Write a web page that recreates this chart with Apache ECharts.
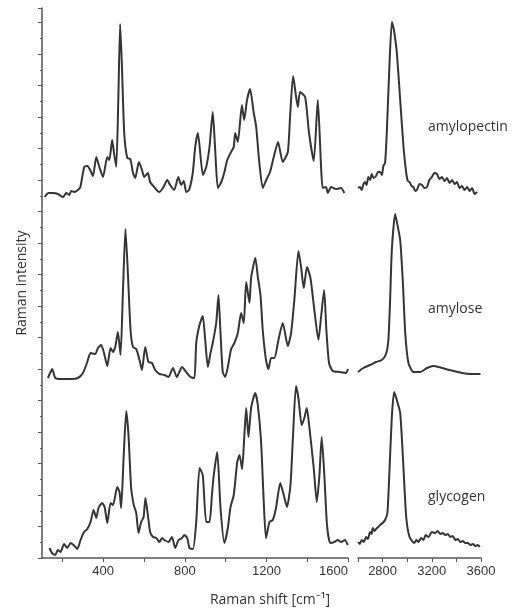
<!DOCTYPE html>
<html>
<head>
<meta charset="utf-8">
<script src="https://cdn.jsdelivr.net/npm/echarts@6/dist/echarts.min.js"></script>
<style>
  html, body { margin: 0; padding: 0; background: #ffffff; }
  #chart { width: 513px; height: 610px; }
</style>
</head>
<body>
<div id="chart"></div>
<script>
// Raman shift (cm-1) and intensity (a.u., spectra stacked)
var amylopectinLowShift = [113, 132, 154, 178, 203, 219, 234, 243, 258, 276, 288, 307, 322, 336, 350, 366, 381, 399, 420, 430, 444, 453, 464, 474, 483, 492, 503, 518, 533, 546, 557, 575, 590, 601, 619, 630, 650, 674, 693, 714, 728, 748, 768, 782, 795, 807, 821, 839, 851, 864, 889, 905, 921, 937, 949, 962, 979, 993, 1008, 1027, 1040, 1047, 1060, 1080, 1091, 1105, 1120, 1138, 1150, 1164, 1182, 1199, 1218, 1236, 1257, 1280, 1305, 1316, 1331, 1354, 1365, 1390, 1409, 1432, 1452, 1468, 1476, 1492, 1501, 1517, 1541, 1566, 1582]
var amylopectinLowInt = [361, 365, 365, 364, 361, 365, 363, 367, 366, 368, 371, 391, 392, 388, 382, 401, 391, 381, 401, 398, 418, 405, 391, 458, 534, 491, 425, 400, 399, 385, 380, 396, 388, 381, 385, 376, 371, 366, 370, 378, 373, 368, 381, 373, 377, 366, 368, 385, 411, 425, 383, 391, 411, 446, 408, 370, 376, 385, 398, 406, 411, 425, 416, 453, 438, 458, 469, 445, 431, 398, 370, 378, 386, 401, 416, 396, 406, 441, 482, 451, 466, 461, 425, 397, 458, 391, 370, 371, 365, 371, 369, 370, 365]
var amylopectinHighShift = [2600, 2616, 2630, 2645, 2657, 2670, 2684, 2698, 2712, 2725, 2747, 2762, 2780, 2795, 2806, 2820, 2834, 2855, 2875, 2885, 2896, 2916, 2943, 2970, 2992, 3005, 3019, 3035, 3051, 3065, 3079, 3100, 3120, 3140, 3161, 3180, 3201, 3220, 3242, 3262, 3283, 3303, 3324, 3345, 3365, 3385, 3405, 3425, 3446, 3466, 3487, 3508, 3528, 3548, 3569]
var amylopectinHighInt = [370, 371, 368, 374, 376, 373, 381, 378, 384, 380, 382, 386, 386, 383, 392, 395, 425, 491, 536, 532, 525, 505, 458, 411, 385, 377, 376, 372, 371, 367, 368, 374, 373, 370, 371, 378, 381, 385, 384, 379, 381, 377, 380, 375, 378, 374, 376, 370, 372, 368, 371, 367, 370, 364, 366]

var amyloseLowShift = [129, 142, 150, 165, 194, 243, 276, 301, 322, 338, 361, 374, 390, 404, 420, 436, 448, 459, 472, 485, 497, 509, 521, 534, 546, 562, 578, 590, 606, 622, 639, 655, 676, 700, 720, 742, 761, 786, 807, 828, 847, 856, 872, 888, 900, 913, 926, 937, 954, 965, 975, 986, 998, 1011, 1027, 1043, 1060, 1076, 1089, 1101, 1117, 1125, 1146, 1158, 1171, 1182, 1198, 1210, 1223, 1239, 1259, 1280, 1305, 1321, 1337, 1357, 1370, 1383, 1399, 1416, 1435, 1455, 1468, 1483, 1494, 1507, 1525, 1558, 1590, 1600]
var amyloseLowInt = [180, 186, 189, 180, 179, 179, 180, 185, 196, 205, 204, 210, 213, 205, 192, 210, 206, 211, 226, 203, 268, 329, 285, 228, 211, 209, 198, 188, 211, 196, 195, 188, 184, 183, 181, 190, 181, 191, 186, 181, 180, 215, 233, 242, 218, 191, 205, 215, 235, 263, 225, 186, 181, 191, 209, 215, 225, 245, 235, 276, 255, 280, 300, 281, 263, 228, 198, 189, 200, 200, 218, 235, 212, 225, 258, 307, 291, 270, 291, 280, 248, 218, 241, 268, 228, 195, 187, 186, 185, 189]
var amyloseHighShift = [2600, 2643, 2698, 2747, 2793, 2828, 2847, 2861, 2875, 2902, 2924, 2943, 2965, 2984, 3010, 3051, 3106, 3161, 3214, 3255, 3310, 3378, 3446, 3514, 3596]
var amyloseHighInt = [186, 190, 193, 196, 198, 204, 218, 258, 308, 344, 331, 318, 275, 225, 195, 186, 186, 190, 192, 191, 189, 187, 185, 184, 184]

var glycogenLowShift = [137, 149, 165, 178, 191, 208, 224, 240, 260, 273, 289, 306, 322, 338, 353, 366, 377, 394, 407, 420, 436, 448, 469, 480, 488, 500, 513, 524, 537, 550, 562, 573, 586, 598, 607, 619, 630, 644, 660, 676, 688, 700, 720, 737, 753, 769, 786, 798, 812, 823, 840, 856, 872, 888, 905, 921, 933, 942, 959, 975, 994, 1011, 1024, 1040, 1057, 1068, 1081, 1092, 1101, 1112, 1125, 1145, 1158, 1174, 1187, 1198, 1215, 1231, 1247, 1268, 1285, 1301, 1318, 1329, 1345, 1357, 1373, 1386, 1398, 1411, 1432, 1447, 1460, 1471, 1484, 1497, 1513, 1533, 1550, 1566, 1585, 1599]
var glycogenLowInt = [10, 5, 3, 8, 6, 14, 10, 15, 12, 9, 18, 26, 29, 36, 48, 40, 50, 55, 51, 35, 55, 53, 71, 66, 50, 100, 147, 123, 70, 53, 45, 25, 36, 41, 60, 43, 26, 21, 20, 16, 20, 18, 16, 21, 10, 18, 20, 23, 20, 10, 9, 36, 90, 83, 36, 36, 63, 83, 106, 50, 15, 30, 51, 63, 96, 103, 89, 123, 150, 121, 150, 165, 153, 116, 56, 20, 36, 38, 50, 75, 63, 51, 73, 116, 172, 160, 133, 140, 150, 130, 90, 56, 83, 121, 83, 33, 15, 16, 18, 16, 18, 13]
var glycogenHighShift = [2600, 2615, 2630, 2648, 2665, 2680, 2698, 2710, 2720, 2735, 2747, 2765, 2780, 2800, 2820, 2839, 2855, 2875, 2894, 2916, 2943, 2965, 2992, 3019, 3057, 3075, 3092, 3112, 3133, 3150, 3174, 3200, 3228, 3248, 3269, 3290, 3310, 3330, 3351, 3370, 3392, 3412, 3432, 3452, 3473, 3493, 3514, 3535, 3555, 3575, 3590]
var glycogenHighInt = [16, 14, 18, 16, 21, 19, 26, 24, 30, 27, 29, 31, 33, 35, 38, 45, 85, 141, 166, 158, 145, 101, 41, 21, 15, 18, 16, 20, 18, 23, 21, 26, 25, 27, 24, 25, 23, 24, 21, 22, 18, 19, 16, 17, 15, 15, 13, 14, 12, 13, 11]

var lowTicks = [200, 400, 600, 800, 1000, 1200, 1400, 1600]
var lowLabels = [400, 800, 1200, 1600]
var highTicks = [2600, 2800, 3000, 3200, 3400, 3600]
var highLabels = [2800, 3200, 3600]
var sampleNames = ['amylopectin', 'amylose', 'glycogen']

function pairs(xs, ys) {
  var out = []
  for (var i = 0; i < xs.length; i++) {
    out.push([xs[i], ys[i]])
  }
  return out
}

var lineColor = '#353535'
var axisColor = '#555555'

function spectrum(name, xs, ys, idx) {
  return {
    name: name,
    type: 'line',
    xAxisIndex: idx,
    yAxisIndex: idx,
    data: pairs(xs, ys),
    showSymbol: false,
    smooth: 0.2,
    lineStyle: { color: lineColor, width: 2 },
    silent: true
  }
}

function plain(v) { return String(v) }

var chart = echarts.init(document.getElementById('chart'))
chart.setOption({
  backgroundColor: '#ffffff',
  animation: false,
  grid: [
    { left: 42, top: 8, width: 306, height: 550 },
    { left: 358, top: 8, width: 123, height: 550 }
  ],
  xAxis: [
    {
      type: 'value', gridIndex: 0, min: 100, max: 1600,
      axisLine: { lineStyle: { color: axisColor, width: 1.5 } },
      axisTick: { customValues: lowTicks, length: 4, lineStyle: { color: axisColor } },
      axisLabel: { customValues: lowLabels, formatter: plain, alignMaxLabel: 'right', color: '#333', fontSize: 13, fontFamily: 'Liberation Sans', margin: 7 },
      splitLine: { show: false }
    },
    {
      type: 'value', gridIndex: 1, min: 2600, max: 3600,
      axisLine: { lineStyle: { color: axisColor, width: 1.5 } },
      axisTick: { customValues: highTicks, length: 4, lineStyle: { color: axisColor } },
      axisLabel: { customValues: highLabels, formatter: plain, color: '#333', fontSize: 13, fontFamily: 'Liberation Sans', margin: 7 },
      splitLine: { show: false }
    }
  ],
  yAxis: [
    {
      type: 'value', gridIndex: 0, min: 0, max: 550, interval: 31.5,
      name: 'Raman intensity', nameLocation: 'middle', nameGap: 13,
      nameTextStyle: { color: '#333', fontSize: 14, fontFamily: 'Open Sans' },
      axisLine: { show: true, lineStyle: { color: axisColor, width: 1.5 } },
      axisTick: { show: true, length: 4, lineStyle: { color: axisColor } },
      minorTick: { show: true, splitNumber: 2, length: 2, lineStyle: { color: axisColor } },
      axisLabel: { show: false },
      splitLine: { show: false }
    },
    { type: 'value', gridIndex: 1, min: 0, max: 550, show: false }
  ],
  graphic: [
    { type: 'text', x: 270, y: 600, style: { text: 'Raman shift [cm⁻¹]', fill: '#333', font: '14px "Open Sans"', textAlign: 'center', textVerticalAlign: 'middle' } },
    { type: 'text', x: 428, y: 127, style: { text: sampleNames[0], fill: '#333', font: '14px "Open Sans"', textAlign: 'left', textVerticalAlign: 'middle' } },
    { type: 'text', x: 428, y: 309, style: { text: sampleNames[1], fill: '#333', font: '14px "Open Sans"', textAlign: 'left', textVerticalAlign: 'middle' } },
    { type: 'text', x: 428, y: 497, style: { text: sampleNames[2], fill: '#333', font: '14px "Open Sans"', textAlign: 'left', textVerticalAlign: 'middle' } }
  ],
  series: [
    spectrum(sampleNames[0], amylopectinLowShift, amylopectinLowInt, 0),
    spectrum(sampleNames[0], amylopectinHighShift, amylopectinHighInt, 1),
    spectrum(sampleNames[1], amyloseLowShift, amyloseLowInt, 0),
    spectrum(sampleNames[1], amyloseHighShift, amyloseHighInt, 1),
    spectrum(sampleNames[2], glycogenLowShift, glycogenLowInt, 0),
    spectrum(sampleNames[2], glycogenHighShift, glycogenHighInt, 1)
  ]
})
</script>
</body>
</html>
